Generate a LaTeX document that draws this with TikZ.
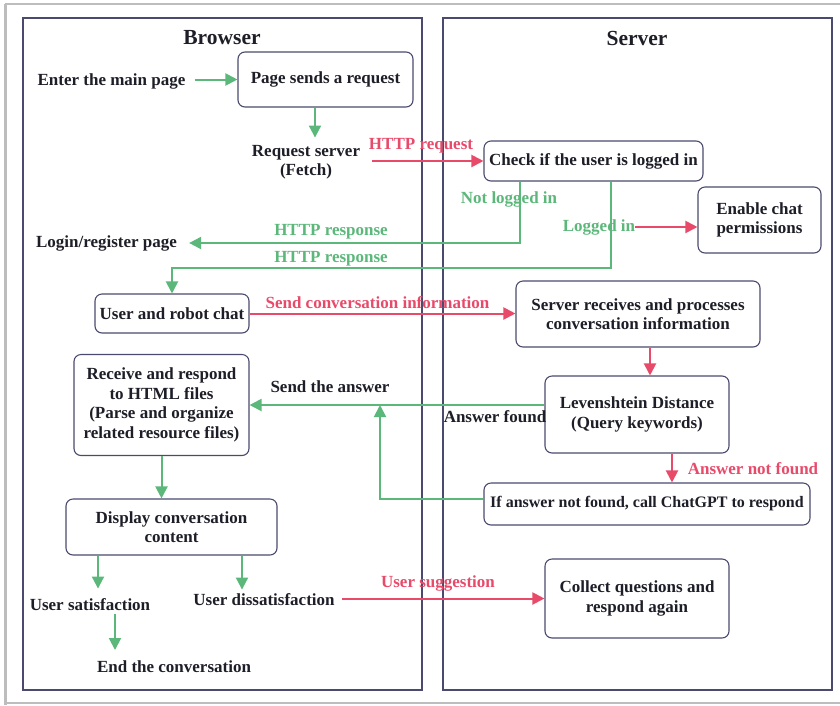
\documentclass[tikz,border=0pt]{standalone}
\usepackage{fontspec}
\setmainfont{Liberation Serif}
\usetikzlibrary{arrows.meta,calc}
\definecolor{flowgreen}{HTML}{5CB87A}
\definecolor{flowred}{HTML}{E84A6A}
\definecolor{panelnavy}{HTML}{4A4A6E}
\definecolor{inkdark}{HTML}{1E1E28}
\definecolor{framegray}{HTML}{BDBDBD}
\begin{document}
\begin{tikzpicture}[x=1pt,y=-1pt,
  font=\bfseries\fontsize{17}{19.5}\selectfont,
  box/.style={draw=panelnavy, line width=1.1pt, rounded corners=7pt, align=center,
              inner sep=0pt, text=inkdark, fill=white},
  lbl/.style={inner sep=0pt, align=center, text=inkdark},
  glabel/.style={inner sep=0pt, text=flowgreen},
  rlabel/.style={inner sep=0pt, text=flowred},
  title/.style={inner sep=0pt, text=inkdark, font=\bfseries\fontsize{21.5}{24}\selectfont},
  panel/.style={draw=panelnavy, line width=1.2pt},
  garrow/.style={draw=flowgreen, line width=2pt, -{Triangle[length=12pt,width=12pt]}},
  gline/.style={draw=flowgreen, line width=2pt},
  rarrow/.style={draw=flowred, line width=2pt, -{Triangle[length=12pt,width=12pt]}}]

\useasboundingbox (0,0) rectangle (840,705);

% outer frame
\draw[framegray, line width=2pt] (5,4) -- (840,4);
\draw[framegray, line width=3pt] (5,4) -- (5,705);
\draw[framegray, line width=1.5pt] (5,703) -- (840,703);

% swimlanes
\draw[panel] (23,18) rectangle (422,690);
\draw[panel] (443,18) rectangle (832,690);
\node[title] (browsertitle) at (222,38) {Browser};
\node[title] (servertitle) at (637,38) {Server};

% boxes
\node[box, minimum width=175pt, minimum height=55pt] (page) at (325.5,79.5) {Page sends a request};
\node[box, minimum width=219pt, minimum height=40pt] (check) at (593.5,161) {Check if the user is logged in};
\node[box, minimum width=123pt, minimum height=66pt] (enable) at (759.5,220) {Enable chat\\permissions};
\node[box, minimum width=154pt, minimum height=39pt] (chat) at (172,313.5) {User and robot chat};
\node[box, minimum width=244pt, minimum height=66pt] (srv) at (638,314) {Server receives and processes\\conversation information};
\node[box, minimum width=184pt, minimum height=77pt] (lev) at (637,414.5) {Levenshtein Distance\\(Query keywords)};
\node[box, minimum width=175pt, minimum height=101pt] (recv) at (161.5,405) {Receive and respond\\to HTML files\\(Parse and organize\\related resource files)};
\node[box, minimum width=326pt, minimum height=42pt, font=\bfseries\fontsize{16}{19.5}\selectfont] (gpt) at (647,504) {If answer not found, call ChatGPT to respond};
\node[box, minimum width=211pt, minimum height=56pt] (disp) at (171.5,527) {Display conversation\\content};
\node[box, minimum width=184pt, minimum height=79pt] (collect) at (637,598.5) {Collect questions and\\respond again};

% plain text states
\node[lbl] (enter) at (111.5,81) {Enter the main page};
\node[lbl] (req) at (306,162) {Request server\\(Fetch)};
\node[lbl] (login) at (106.5,243) {Login/register page};
\node[lbl] (satisf) at (90,605) {User satisfaction};
\node[lbl] (dissat) at (264,600) {User dissatisfaction};
\node[lbl] (endc) at (174,667) {End the conversation};

% connector labels
\node[rlabel] (httpreq) at (421,146) {HTTP request};
\node[glabel] (notlogged) at (509,199) {Not logged in};
\node[glabel] (resp1) at (331,232) {HTTP response};
\node[glabel] (resp2) at (331,259) {HTTP response};
\node[rlabel] (sendinfo) at (377.5,303) {Send conversation information};
\node[lbl] (sendans) at (330,387) {Send the answer};
\node[lbl] (ansfound) at (495,417) {Answer found};
\node[rlabel] (notfound) at (753,469) {Answer not found};
\node[rlabel] (suggest) at (438,583) {User suggestion};

% helper points
\coordinate (ans) at ($(lev.west)+(0,-9.5)$);
\coordinate (junction) at (380,405);
\coordinate (endtip) at (115,650);

% browser flow
\draw[garrow] ([xshift=9pt]enter.east |- page.west) -- (page.west);
\draw[garrow] ([xshift=-10.5pt]page.south) -- ++(0,30);
\draw[rarrow] ([xshift=12pt]req.east |- check.west) -- (check.west);

% login check responses
\draw[garrow] ([xshift=-73.5pt]check.south) |- ([xshift=12pt]login.east);
\draw[garrow] ([xshift=17.5pt]check.south) -- ++(0,86) -| (chat.north);
\node[glabel] (logged) at (599,227) {Logged in};
\draw[rarrow] (logged.east) -- (logged.east -| enable.west);

% conversation
\draw[rarrow] (chat.east) -- (chat.east -| srv.west);
\draw[rarrow] ([xshift=12pt]srv.south) -- ([xshift=13pt]lev.north);
\draw[garrow] (ans) -- (ans -| recv.east);
\draw[rarrow] ([xshift=35pt]lev.south) -- (gpt.north -| {$(lev.south)+(35,0)$});
\draw[garrow] ([yshift=5pt]gpt.west) -| (junction);
\draw[garrow] (recv.south) -- (recv.south |- disp.north);

% outcome
\draw[garrow] ([xshift=-73.5pt]disp.south) -- ++(0,33);
\draw[garrow] ([xshift=70.5pt]disp.south) -- ++(0,34);
\draw[garrow] ([xshift=25pt,yshift=-3pt]satisf.south) -- (endtip);
\draw[rarrow] ([xshift=7pt]dissat.east |- collect.west) -- (collect.west);

\end{tikzpicture}
\end{document}
